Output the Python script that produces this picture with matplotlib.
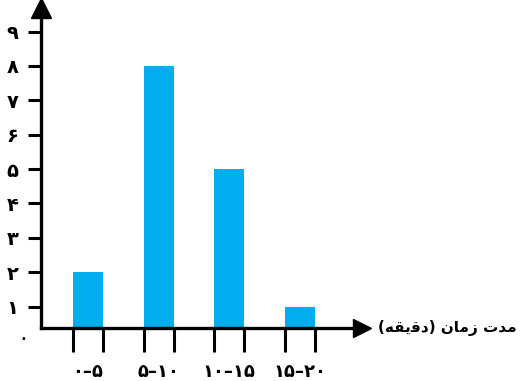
import numpy as np
import matplotlib.pyplot as plt

# داده‌ها
bins = ["۰–۵", "۵–۱۰", "۱۰–۱۵", "۱۵–۲۰"]
counts = [2, 8, 5, 1]
yticks = [1, 2, 3, 4, 5, 6, 7, 8, 9]
ylabels = ["۱", "۲", "۳", "۴", "۵", "۶", "۷", "۸", "۹"]
# "مدت زمان (دقیقه)" in shaped, visual order (no text shaping in matplotlib)
xlabel = "(\uFEEA\uFED8\uFBFE\uFED7\uFEA9) \uFEE5\uFE8E\uFEE3\uFEAF \uFE95\uFEAA\uFEE3"

blue = '#00AEEF'

fig = plt.figure(figsize=(5.2, 3.81), dpi=100)
ax = fig.add_axes([41/520, 53/381, 327/520, 325/381])

x = np.arange(len(counts))
w = 0.424
ax.bar(x, counts, width=w, color=blue, zorder=1)

ax.set_xlim(-0.665, 3.96)
ax.set_ylim(0.378, 9.83)

for s in ['top', 'right']:
    ax.spines[s].set_visible(False)
for s in ['left', 'bottom']:
    ax.spines[s].set_linewidth(2.4)
    ax.spines[s].set_zorder(3)
ax.spines['bottom'].set_bounds(-0.665, 3.8)
ax.spines['left'].set_bounds(0.378, 9.6)

# arrow heads
ax.plot([3.87], [0.378], marker='>', markersize=13, color='black',
        clip_on=False, zorder=4)
ax.plot([-0.665], [9.68], marker='^', markersize=15, color='black',
        clip_on=False, zorder=4)

ax.set_yticks(yticks)
ax.set_yticklabels(ylabels, fontsize=14, fontweight='bold')
ax.tick_params(axis='y', direction='out', length=9.4, width=2.2, pad=7)

edges = []
for xi in x:
    edges += [xi - w / 2, xi + w / 2]
ax.set_xticks(edges)
ax.set_xticklabels([])
ax.tick_params(axis='x', direction='out', length=17, width=2.2)

for xi, lab in zip(x, bins):
    ax.text(xi, -0.135, lab, transform=ax.get_xaxis_transform(),
            ha='center', va='center', fontsize=13, fontweight='bold')

ax.text(-0.035, 0.34, "۰", transform=ax.get_yaxis_transform(),
        ha='right', va='top', fontsize=16)

ax.text(447/520, 1 - 328/381, xlabel, transform=fig.transFigure,
        ha='center', va='center', fontsize=11, fontweight='bold')

fig.savefig('out.png', dpi=100)
